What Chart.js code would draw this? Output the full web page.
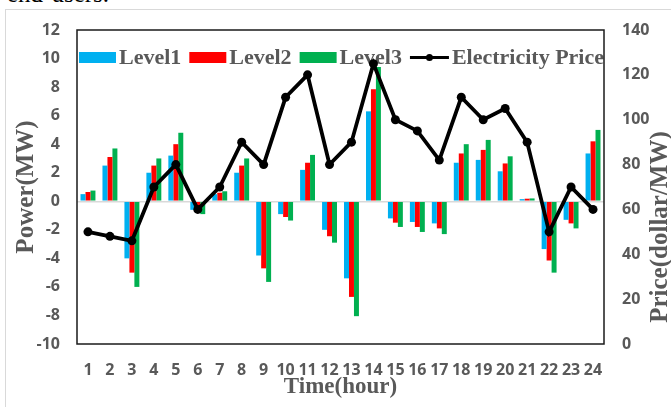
<!DOCTYPE html>
<html>
<head>
<meta charset="utf-8">
<script src="https://cdn.jsdelivr.net/npm/chart.js@4.4.1/dist/chart.umd.min.js"></script>
<style>
  html, body { margin: 0; padding: 0; background: #ffffff; }
  #wrap { position: relative; width: 671px; height: 407px; overflow: hidden; background: #ffffff; }
  #caption { position: absolute; left: 7px; top: -19px; font: 25px "Liberation Serif", serif; line-height: 1; color: #000; white-space: nowrap; }
  #frame { position: absolute; left: 5px; top: 9px; width: 700px; height: 420px; border-left: 1px solid #d9d9d9; border-top: 1px solid #d9d9d9; }
  canvas { position: absolute; left: 0; top: 0; }
</style>
</head>
<body>
<div id="wrap">
  <div id="caption">end-users.</div>
  <div id="frame"></div>
  <canvas id="chart" width="671" height="407"></canvas>
</div>
<script>
// Hourly power at three levels (MW) and electricity price (dollar/MW)
const hours = ['1','2','3','4','5','6','7','8','9','10','11','12','13','14','15','16','17','18','19','20','21','22','23','24'];
const level1 = [0.5, 2.5, -4.0, 2.0, 3.2, -0.6, 0.5, 2.0, -3.8, -0.9, 2.2, -2.0, -5.4, 6.3, -1.2, -1.45, -1.55, 2.7, 2.9, 2.1, 0.15, -3.35, -1.3, 3.35];
const level2 = [0.65, 3.1, -5.0, 2.5, 4.0, -0.75, 0.6, 2.5, -4.7, -1.1, 2.7, -2.45, -6.7, 7.85, -1.5, -1.8, -1.9, 3.35, 3.6, 2.65, 0.18, -4.15, -1.55, 4.2];
const level3 = [0.75, 3.7, -6.0, 3.0, 4.8, -0.9, 0.7, 3.0, -5.65, -1.35, 3.25, -2.9, -8.05, 9.4, -1.8, -2.15, -2.3, 4.0, 4.3, 3.15, 0.2, -5.0, -1.9, 5.0];
const price = [50, 48, 46, 70, 80, 60, 70, 90, 80, 110, 120, 80, 90, 125, 100, 95, 82, 110, 100, 105, 90, 50, 70, 60];

const powerTicks = { min: -10, max: 12, step: 2 };
const priceTicks = { min: 0, max: 140, step: 20 };

const TEXT_GREY = '#595959';
const SERIF = '"Liberation Serif", "Times New Roman", serif';
const SANS = '"Open Sans", "Liberation Sans", sans-serif';

// Plot frame around the chart area
const framePlugin = {
  id: 'plotFrame',
  afterDatasetsDraw(chart) {
    const a = chart.chartArea, ctx = chart.ctx;
    ctx.save();
    ctx.strokeStyle = '#1a1a1a';
    ctx.lineWidth = 1.5;
    ctx.strokeRect(a.left, a.top, a.right - a.left, a.bottom - a.top);
    ctx.restore();
  }
};

// Legend laid out in one row inside the top of the plot area
const insideLegend = {
  id: 'insideLegend',
  beforeDatasetsDraw(chart) {
    const ctx = chart.ctx, a = chart.chartArea;
    const boxW = 37, boxH = 11, gap = 3, spacing = 8;
    const baseline = a.top + 34;
    const midY = a.top + 27.5;
    ctx.save();
    ctx.font = 'bold 22px ' + SERIF;
    const items = chart.data.datasets.map(ds => ({
      text: ds.label,
      color: ds.type === 'line' ? ds.borderColor : ds.backgroundColor,
      isLine: ds.type === 'line',
      w: ctx.measureText(ds.label).width
    }));
    let total = 0;
    items.forEach((it, i) => {
      total += (it.isLine ? 39 : boxW) + gap + it.w + (i < items.length - 1 ? spacing : 0);
    });
    let x = (a.left + a.right) / 2 + 1 - total / 2;
    items.forEach(it => {
      const mw = it.isLine ? 39 : boxW;
      if (it.isLine) {
        ctx.strokeStyle = it.color;
        ctx.lineWidth = 3;
        ctx.beginPath();
        ctx.moveTo(x, midY);
        ctx.lineTo(x + mw, midY);
        ctx.stroke();
        ctx.fillStyle = it.color;
        ctx.beginPath();
        ctx.arc(x + mw / 2, midY, 3.5, 0, Math.PI * 2);
        ctx.fill();
      } else {
        ctx.fillStyle = it.color;
        ctx.fillRect(x, midY - boxH / 2, mw, boxH);
      }
      x += mw + gap;
      ctx.fillStyle = TEXT_GREY;
      ctx.textBaseline = 'alphabetic';
      ctx.textAlign = 'left';
      ctx.fillText(it.text, x, baseline);
      x += it.w + spacing;
    });
    ctx.restore();
  }
};

// Right-hand axis title, reading bottom to top
const rightTitle = {
  id: 'rightTitle',
  afterDraw(chart) {
    const ctx = chart.ctx;
    ctx.save();
    ctx.translate(661, 227);
    ctx.rotate(-Math.PI / 2);
    ctx.font = 'bold 25px ' + SERIF;
    ctx.fillStyle = TEXT_GREY;
    ctx.textAlign = 'center';
    ctx.textBaseline = 'middle';
    ctx.fillText('Price(dollar/MW)', 0, 0);
    ctx.restore();
  }
};

function build() {
  const ctx = document.getElementById('chart').getContext('2d');
  new Chart(ctx, {
    data: {
      labels: hours,
      datasets: [
        { type: 'bar', label: 'Level1', data: level1, backgroundColor: '#00B0F0', yAxisID: 'y', order: 1 },
        { type: 'bar', label: 'Level2', data: level2, backgroundColor: '#FF0000', yAxisID: 'y', order: 1 },
        { type: 'bar', label: 'Level3', data: level3, backgroundColor: '#00B050', yAxisID: 'y', order: 1 },
        {
          type: 'line', label: 'Electricity Price', data: price, yAxisID: 'y2', order: 0,
          borderColor: '#000000', backgroundColor: '#000000', borderWidth: 3.8,
          pointRadius: 4.5, pointBackgroundColor: '#000000', pointBorderWidth: 0,
          tension: 0, fill: false
        }
      ]
    },
    options: {
      responsive: false,
      animation: false,
      layout: { padding: { top: 30, left: 0, right: 0, bottom: 0 } },
      datasets: { bar: { categoryPercentage: 0.68, barPercentage: 1.0, borderWidth: 0 } },
      plugins: { legend: { display: false }, tooltip: { enabled: false } },
      scales: {
        x: {
          grid: { display: false, drawTicks: false },
          border: { display: false },
          ticks: {
            autoSkip: false, maxRotation: 0, minRotation: 0, padding: 17,
            color: TEXT_GREY, font: { family: SANS, size: 16, weight: 'bold' }
          },
          title: {
            display: true, text: 'Time(hour)', color: TEXT_GREY,
            font: { family: SERIF, size: 23, weight: 'bold' },
            padding: { top: 0, bottom: 6 }
          },
          afterFit(scale) { scale.height = 63; }
        },
        y: {
          position: 'left',
          min: powerTicks.min, max: powerTicks.max,
          grid: {
            drawTicks: false,
            color: c => (c.tick && c.tick.value === 0 ? '#D9D9D9' : 'rgba(0,0,0,0)'),
            lineWidth: 1.5
          },
          border: { display: false },
          ticks: {
            stepSize: powerTicks.step, padding: 17, color: TEXT_GREY,
            font: { family: SANS, size: 16, weight: 'bold' }
          },
          title: {
            display: true, text: 'Power(MW)', color: TEXT_GREY,
            font: { family: SERIF, size: 25, weight: 'bold' },
            padding: { top: 12, bottom: 0 }
          },
          afterFit(scale) { scale.width = 77; }
        },
        y2: {
          position: 'right',
          min: priceTicks.min, max: priceTicks.max,
          grid: { display: false, drawTicks: false },
          border: { display: false },
          ticks: {
            stepSize: priceTicks.step, padding: 18, color: TEXT_GREY,
            font: { family: SANS, size: 16, weight: 'bold' }
          },
          afterFit(scale) { scale.width = 67; }
        }
      }
    },
    plugins: [insideLegend, framePlugin, rightTitle]
  });
}

const fontLoads = [
  'bold 22px "Liberation Serif"',
  'bold 16px "Open Sans"'
].map(f => document.fonts.load(f).catch(() => null));
Promise.all(fontLoads).then(build, build);
</script>
</body>
</html>
